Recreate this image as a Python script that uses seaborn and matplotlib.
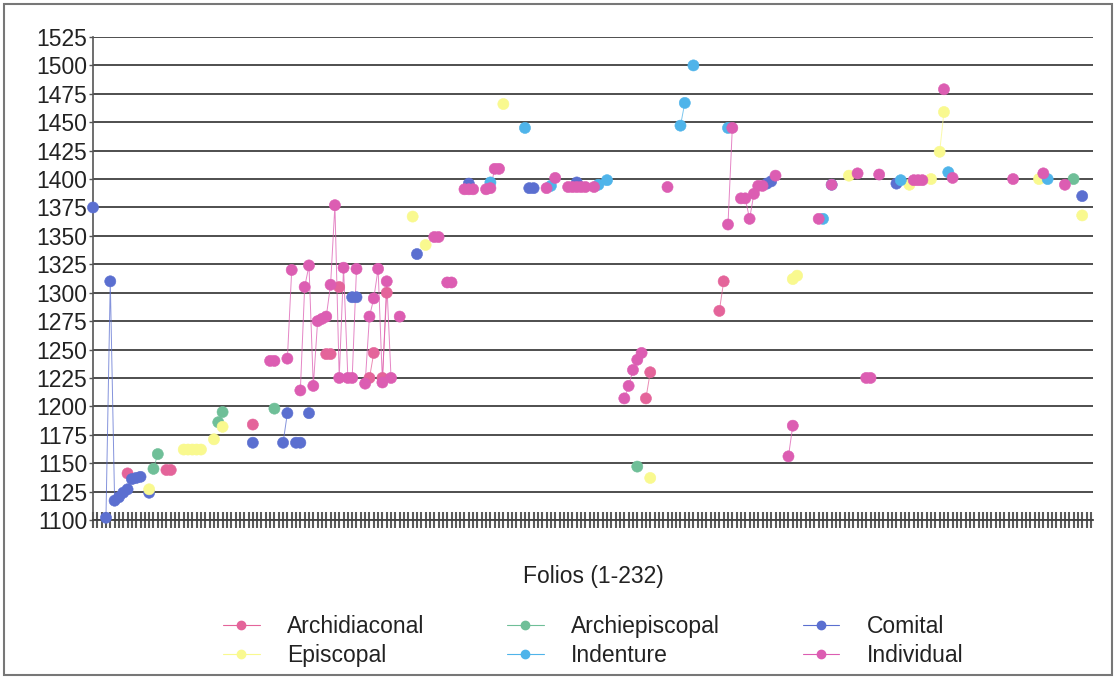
import numpy as np
import pandas as pd
import matplotlib
matplotlib.use("Agg")
import matplotlib.pyplot as plt
import seaborn as sns
from matplotlib.lines import Line2D
from matplotlib.patches import Rectangle

# ---------------- data (folio index, year) ----------------
series_names = ["Archidiaconal", "Archiepiscopal", "Comital",
                "Episcopal", "Indenture", "Individual"]

archidiaconal_folios = [9, 18, 19, 38, 55, 56, 58, 65, 66, 68, 69, 129, 130, 146, 147]
archidiaconal_years = [1141, 1144, 1144, 1184, 1246, 1246, 1305, 1225, 1247, 1225, 1300,
                       1207, 1230, 1284, 1310]

archiepiscopal_folios = [15, 16, 30, 31, 43, 127, 228]
archiepiscopal_years = [1145, 1158, 1186, 1195, 1198, 1147, 1400]

comital_folios = [1, 4, 5, 6, 7, 8, 9, 10, 11, 12, 14, 38, 45, 46, 48, 49, 51,
                  61, 62, 76, 88, 102, 103, 113, 157, 158, 187, 230]
comital_years = [1375, 1102, 1310, 1117, 1120, 1124, 1127, 1136, 1137, 1138, 1124,
                 1168, 1168, 1194, 1168, 1168, 1194, 1296, 1296, 1334, 1396,
                 1392, 1392, 1397, 1396, 1398, 1396, 1385]

episcopal_folios = [14, 22, 23, 24, 25, 26, 29, 31, 75, 78, 96, 130, 163, 164,
                    176, 190, 195, 197, 198, 220, 230]
episcopal_years = [1127, 1162, 1162, 1162, 1162, 1162, 1171, 1182, 1367, 1342, 1466,
                   1137, 1312, 1315, 1403, 1395, 1400, 1424, 1459, 1400, 1368]

indenture_folios = [93, 101, 107, 118, 120, 137, 138, 140, 148, 170, 172, 188, 199, 222]
indenture_years = [1397, 1445, 1394, 1395, 1399, 1447, 1467, 1500, 1445, 1365, 1395,
                   1399, 1406, 1400]

individual_folios = [42, 43, 46, 47, 49, 50, 51, 52, 53, 54, 55, 56, 57, 58, 59, 60,
                     61, 62, 64, 65, 66, 67, 68, 69, 70, 72, 80, 81, 83, 84,
                     87, 88, 89, 92, 93, 94, 95, 106, 108, 111, 112, 113, 114, 115,
                     117, 124, 125, 126, 127, 128, 134, 148, 149, 151, 152, 153, 154,
                     155, 156, 159, 162, 163, 169, 172, 178, 180, 181, 183,
                     191, 192, 193, 198, 200, 214, 221, 226]
individual_years = [1240, 1240, 1242, 1320, 1214, 1305, 1324, 1218, 1275, 1277, 1279,
                    1307, 1377, 1225, 1322, 1225, 1225, 1321, 1220, 1279, 1295, 1321,
                    1221, 1310, 1225, 1279, 1349, 1349, 1309, 1309,
                    1391, 1391, 1391, 1391, 1392, 1409, 1409, 1392, 1401,
                    1393, 1393, 1393, 1393, 1393, 1393, 1207, 1218, 1232, 1241, 1247,
                    1393, 1360, 1445, 1383, 1383, 1365, 1387, 1394, 1394, 1403,
                    1156, 1183, 1365, 1395, 1405, 1225, 1225, 1404,
                    1399, 1399, 1399, 1479, 1401, 1400, 1405, 1395]

y_ticks = list(range(1100, 1526, 25))
x_label = "Folios (1-232)"

colors = {
    "Archidiaconal": "#e4649a",
    "Archiepiscopal": "#6fbf98",
    "Comital": "#5b6fd0",
    "Episcopal": "#f9f98f",
    "Indenture": "#4fb4ea",
    "Individual": "#dc5db2",
}

# ---------------- build table ----------------
parts = []
run_id = 0
for name, fol, yrs in [
    ("Archidiaconal", archidiaconal_folios, archidiaconal_years),
    ("Archiepiscopal", archiepiscopal_folios, archiepiscopal_years),
    ("Comital", comital_folios, comital_years),
    ("Episcopal", episcopal_folios, episcopal_years),
    ("Indenture", indenture_folios, indenture_years),
    ("Individual", individual_folios, individual_years),
]:
    runs = []
    prev = None
    for f in fol:
        if prev is None or f != prev + 1:
            run_id += 1
        runs.append(run_id)
        prev = f
    parts.append(pd.DataFrame({"folio": fol, "year": yrs, "series": name, "run": runs}))
df = pd.concat(parts, ignore_index=True)

# ---------------- plot ----------------
sns.set_theme(style="white")
plt.rcParams['font.family'] = ['Liberation Sans', 'DejaVu Sans']

W, H = 1117, 679
fig = plt.figure(figsize=(W / 100, H / 100), dpi=100)
fig.patch.set_facecolor("white")
ax = fig.add_axes([93 / W, 1 - 520 / H, 1000 / W, 483 / H])

sns.lineplot(data=df, x="folio", y="year", hue="series", units="run",
             estimator=None, palette=colors, hue_order=series_names,
             linewidth=0.7, alpha=0.75, legend=False, ax=ax, sort=True, zorder=2)
sns.scatterplot(data=df, x="folio", y="year", hue="series", palette=colors,
                hue_order=series_names, s=64, linewidth=0.4,
                edgecolor="face", legend=False, ax=ax, zorder=3, clip_on=False)

ax.set_xlim(1, 232.5)
ax.set_ylim(1100, 1525)
ax.set_yticks(y_ticks)
ax.set_yticklabels([str(v) for v in y_ticks], fontsize=16.5, color="#222222")
ax.set_xticks(np.arange(1, 233))
ax.tick_params(axis="x", bottom=True, direction="inout", length=11, width=1.5,
               color="#5a5a5a", labelbottom=False)
ax.tick_params(axis="y", left=True, direction="out", length=3, width=1.0,
               color="#555555", pad=1)
ax.yaxis.grid(True, color="#404040", linewidth=1.3)
ax.xaxis.grid(False)
ax.set_axisbelow(True)
for s in ["top", "right"]:
    ax.spines[s].set_visible(False)
ax.spines["left"].set_color("#555555")
ax.spines["left"].set_linewidth(1.2)
ax.spines["bottom"].set_color("#404040")
ax.spines["bottom"].set_linewidth(1.3)
ax.set_xlabel("")
ax.set_ylabel("")

fig.text(593 / W, 1 - 577 / H, x_label, ha="center", va="center",
         fontsize=16.5, color="#222222")

legend_order = ["Archidiaconal", "Episcopal", "Archiepiscopal",
                "Indenture", "Comital", "Individual"]
handles = [Line2D([0], [0], color=colors[n], lw=0.8, marker="o", markersize=6,
                  markerfacecolor=colors[n], markeredgecolor=colors[n])
           for n in legend_order]
fig.legend(handles, legend_order, loc="center", bbox_to_anchor=(0.531, 1 - 641 / H),
           ncol=3, frameon=False, fontsize=16.5, handlelength=1.6,
           handletextpad=1.2, columnspacing=3.6, labelspacing=0.25,
           labelcolor="#222222")

fig.add_artist(Rectangle((4 / W, 4 / H), 1108 / W, 671 / H, transform=fig.transFigure,
                         fill=False, edgecolor="#777777", linewidth=1.5))

fig.savefig("out.png", dpi=100, facecolor="white")
